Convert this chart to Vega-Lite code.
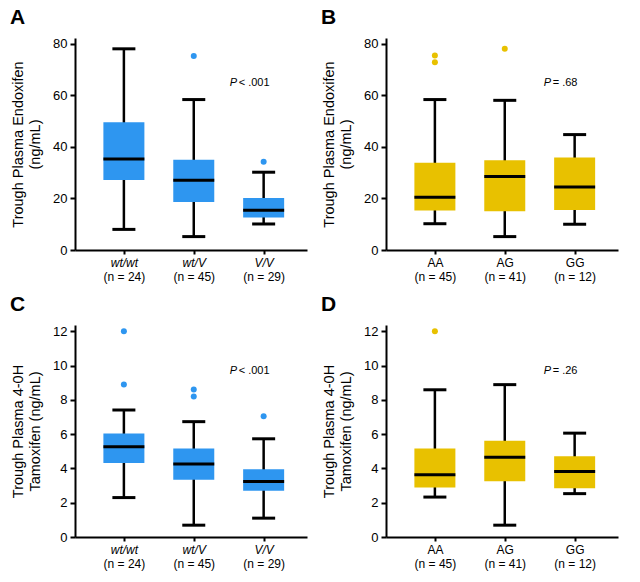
{
  "$schema": "https://vega.github.io/schema/vega-lite/v6.json",
  "background": "white",
  "padding": {"left": 10, "top": 6, "right": 5, "bottom": 5},
  "spacing": {"row": 12, "column": 14},
  "config": {
    "font": "Liberation Sans",
    "view": {"stroke": null},
    "axis": {
      "domainColor": "black", "domainWidth": 2, "tickColor": "black", "tickWidth": 2, "tickSize": 5,
      "labelColor": "black", "labelFont": "Liberation Sans", "grid": false, "labelOverlap": false,
      "titleColor": "black", "titleFont": "Liberation Sans", "titleFontWeight": "normal"
    },
    "axisY": {"titleFontSize": 14.5, "titleLineHeight": 17.5, "titlePadding": 10, "labelFontSize": 13, "labelPadding": 3, "labelOverlap": false},
    "title": {"font": "Liberation Sans", "fontSize": 21, "fontWeight": "bold", "anchor": "start", "frame": "bounds", "offset": 10, "color": "black"}
  },
  "datasets": {
    "statsA": [
      {"g": "wt/wt", "min": 8.0, "q1": 27.2, "med": 35.3, "q3": 49.6, "max": 78.1},
      {"g": "wt/V", "min": 5.2, "q1": 18.6, "med": 27.1, "q3": 35.0, "max": 58.4},
      {"g": "V/V", "min": 10.1, "q1": 12.6, "med": 15.4, "q3": 20.2, "max": 30.2}
    ],
    "outA": [
      {"g": "wt/V", "v": 75.3},
      {"g": "V/V", "v": 34.3}
    ],
    "statsB": [
      {"g": "AA", "min": 10.2, "q1": 15.3, "med": 20.5, "q3": 33.9, "max": 58.4},
      {"g": "AG", "min": 5.2, "q1": 15.0, "med": 28.5, "q3": 34.8, "max": 58.1},
      {"g": "GG", "min": 10.0, "q1": 15.5, "med": 24.5, "q3": 35.9, "max": 44.8}
    ],
    "outB": [
      {"g": "AA", "v": 75.5},
      {"g": "AA", "v": 72.9},
      {"g": "AG", "v": 78.1}
    ],
    "statsC": [
      {"g": "wt/wt", "min": 2.30, "q1": 4.32, "med": 5.27, "q3": 6.04, "max": 7.41},
      {"g": "wt/V", "min": 0.69, "q1": 3.34, "med": 4.26, "q3": 5.17, "max": 6.73},
      {"g": "V/V", "min": 1.10, "q1": 2.70, "med": 3.24, "q3": 3.96, "max": 5.73}
    ],
    "outC": [
      {"g": "wt/wt", "v": 12.0},
      {"g": "wt/wt", "v": 8.9},
      {"g": "wt/V", "v": 8.6},
      {"g": "wt/V", "v": 8.2},
      {"g": "V/V", "v": 7.05}
    ],
    "statsD": [
      {"g": "AA", "min": 2.33, "q1": 2.89, "med": 3.63, "q3": 5.17, "max": 8.59},
      {"g": "AG", "min": 0.69, "q1": 3.26, "med": 4.65, "q3": 5.61, "max": 8.89},
      {"g": "GG", "min": 2.53, "q1": 2.84, "med": 3.82, "q3": 4.71, "max": 6.06}
    ],
    "outD": [
      {"g": "AA", "v": 12.0}
    ],
    "pA": [{"p": "P", "rest": "< .001"}],
    "pB": [{"p": "P", "rest": "= .68"}],
    "pC": [{"p": "P", "rest": "< .001"}],
    "pD": [{"p": "P", "rest": "= .26"}]
  },
  "columns": 2,
  "concat": [
    {
      "title": {"text": "A"},
      "width": 232, "height": 212,
      "resolve": {"scale": {"x": "independent"}, "axis": {"x": "independent"}},
      "layer": [
        {
          "data": {"name": "statsA"},
          "encoding": {
            "x": {"field": "g", "type": "nominal", "sort": null,
                  "scale": {"type": "point", "domain": ["wt/wt", "wt/V", "V/V"], "padding": 0.66, "align": 0.53},
                  "axis": {"title": null, "labelAngle": 0, "labelFontSize": 12, "labelFontStyle": "italic", "labelPadding": 3, "tickSize": 4}}
          },
          "layer": [
            {"mark": {"type": "rule", "color": "black", "strokeWidth": 2.5},
             "encoding": {"y": {"field": "min", "type": "quantitative", "scale": {"domain": [0, 82.3], "nice": false}, "axis": {"title": ["Trough Plasma Endoxifen", "(ng/mL)"], "values": [0, 20, 40, 60, 80]}}, "y2": {"field": "max"}}},
            {"mark": {"type": "bar", "color": "#2E96F0", "width": 41},
             "encoding": {"y": {"field": "q1", "type": "quantitative", "axis": {"title": ["Trough Plasma Endoxifen", "(ng/mL)"], "values": [0, 20, 40, 60, 80]}}, "y2": {"field": "q3"}}},
            {"mark": {"type": "tick", "color": "black", "size": 41, "thickness": 3, "opacity": 1},
             "encoding": {"y": {"field": "med", "type": "quantitative", "axis": {"title": ["Trough Plasma Endoxifen", "(ng/mL)"], "values": [0, 20, 40, 60, 80]}}}},
            {"mark": {"type": "tick", "color": "black", "size": 23, "thickness": 3, "opacity": 1},
             "encoding": {"y": {"field": "min", "type": "quantitative", "axis": {"title": ["Trough Plasma Endoxifen", "(ng/mL)"], "values": [0, 20, 40, 60, 80]}}}},
            {"mark": {"type": "tick", "color": "black", "size": 23, "thickness": 3, "opacity": 1},
             "encoding": {"y": {"field": "max", "type": "quantitative", "axis": {"title": ["Trough Plasma Endoxifen", "(ng/mL)"], "values": [0, 20, 40, 60, 80]}}}},
            {"data": {"name": "pA"}, "mark": {"type": "text", "fontSize": 11, "fontStyle": "italic", "align": "left", "baseline": "middle", "dx": -34, "color": "black"},
             "encoding": {"x": {"datum": "V/V"}, "y": {"datum": 64.9, "type": "quantitative", "axis": {"title": ["Trough Plasma Endoxifen", "(ng/mL)"], "values": [0, 20, 40, 60, 80]}}, "text": {"field": "p"}}},
            {"data": {"name": "pA"}, "mark": {"type": "text", "fontSize": 11, "align": "left", "baseline": "middle", "dx": -25, "color": "black"},
             "encoding": {"x": {"datum": "V/V"}, "y": {"datum": 64.9, "type": "quantitative", "axis": {"title": ["Trough Plasma Endoxifen", "(ng/mL)"], "values": [0, 20, 40, 60, 80]}}, "text": {"field": "rest"}}}
          ]
        },
        {
          "data": {"name": "outA"},
          "mark": {"type": "point", "filled": true, "color": "#2E96F0", "size": 36, "opacity": 1},
          "encoding": {
            "x": {"field": "g", "type": "nominal", "sort": null,
                  "scale": {"type": "point", "domain": ["wt/wt", "wt/V", "V/V"], "padding": 0.66, "align": 0.53},
                  "axis": {"orient": "bottom", "title": null, "labelAngle": 0, "labelFontSize": 12, "ticks": false, "domain": false, "labelPadding": 21,
                           "labelExpr": "datum.value == 'wt/wt' ? '(n = 24)' : datum.value == 'wt/V' ? '(n = 45)' : '(n = 29)'"}},
            "y": {"field": "v", "type": "quantitative", "axis": {"title": ["Trough Plasma Endoxifen", "(ng/mL)"], "values": [0, 20, 40, 60, 80]}}
          }
        }
      ]
    },
    {
      "title": {"text": "B"},
      "width": 232, "height": 212,
      "resolve": {"scale": {"x": "independent"}, "axis": {"x": "independent"}},
      "layer": [
        {
          "data": {"name": "statsB"},
          "encoding": {
            "x": {"field": "g", "type": "nominal", "sort": null,
                  "scale": {"type": "point", "domain": ["AA", "AG", "GG"], "padding": 0.66, "align": 0.53},
                  "axis": {"title": null, "labelAngle": 0, "labelFontSize": 12, "labelPadding": 3, "tickSize": 4}}
          },
          "layer": [
            {"mark": {"type": "rule", "color": "black", "strokeWidth": 2.5},
             "encoding": {"y": {"field": "min", "type": "quantitative", "scale": {"domain": [0, 82.3], "nice": false}, "axis": {"title": ["Trough Plasma Endoxifen", "(ng/mL)"], "values": [0, 20, 40, 60, 80]}}, "y2": {"field": "max"}}},
            {"mark": {"type": "bar", "color": "#E8C100", "width": 41},
             "encoding": {"y": {"field": "q1", "type": "quantitative", "axis": {"title": ["Trough Plasma Endoxifen", "(ng/mL)"], "values": [0, 20, 40, 60, 80]}}, "y2": {"field": "q3"}}},
            {"mark": {"type": "tick", "color": "black", "size": 41, "thickness": 3, "opacity": 1},
             "encoding": {"y": {"field": "med", "type": "quantitative", "axis": {"title": ["Trough Plasma Endoxifen", "(ng/mL)"], "values": [0, 20, 40, 60, 80]}}}},
            {"mark": {"type": "tick", "color": "black", "size": 23, "thickness": 3, "opacity": 1},
             "encoding": {"y": {"field": "min", "type": "quantitative", "axis": {"title": ["Trough Plasma Endoxifen", "(ng/mL)"], "values": [0, 20, 40, 60, 80]}}}},
            {"mark": {"type": "tick", "color": "black", "size": 23, "thickness": 3, "opacity": 1},
             "encoding": {"y": {"field": "max", "type": "quantitative", "axis": {"title": ["Trough Plasma Endoxifen", "(ng/mL)"], "values": [0, 20, 40, 60, 80]}}}},
            {"data": {"name": "pB"}, "mark": {"type": "text", "fontSize": 11, "fontStyle": "italic", "align": "left", "baseline": "middle", "dx": -31, "color": "black"},
             "encoding": {"x": {"datum": "GG"}, "y": {"datum": 64.9, "type": "quantitative", "axis": {"title": ["Trough Plasma Endoxifen", "(ng/mL)"], "values": [0, 20, 40, 60, 80]}}, "text": {"field": "p"}}},
            {"data": {"name": "pB"}, "mark": {"type": "text", "fontSize": 11, "align": "left", "baseline": "middle", "dx": -22, "color": "black"},
             "encoding": {"x": {"datum": "GG"}, "y": {"datum": 64.9, "type": "quantitative", "axis": {"title": ["Trough Plasma Endoxifen", "(ng/mL)"], "values": [0, 20, 40, 60, 80]}}, "text": {"field": "rest"}}}
          ]
        },
        {
          "data": {"name": "outB"},
          "mark": {"type": "point", "filled": true, "color": "#E8C100", "size": 36, "opacity": 1},
          "encoding": {
            "x": {"field": "g", "type": "nominal", "sort": null,
                  "scale": {"type": "point", "domain": ["AA", "AG", "GG"], "padding": 0.66, "align": 0.53},
                  "axis": {"orient": "bottom", "title": null, "labelAngle": 0, "labelFontSize": 12, "ticks": false, "domain": false, "labelPadding": 21,
                           "labelExpr": "datum.value == 'AA' ? '(n = 45)' : datum.value == 'AG' ? '(n = 41)' : '(n = 12)'"}},
            "y": {"field": "v", "type": "quantitative", "axis": {"title": ["Trough Plasma Endoxifen", "(ng/mL)"], "values": [0, 20, 40, 60, 80]}}
          }
        }
      ]
    },
    {
      "title": {"text": "C"},
      "width": 232, "height": 212,
      "resolve": {"scale": {"x": "independent"}, "axis": {"x": "independent"}},
      "layer": [
        {
          "data": {"name": "statsC"},
          "encoding": {
            "x": {"field": "g", "type": "nominal", "sort": null,
                  "scale": {"type": "point", "domain": ["wt/wt", "wt/V", "V/V"], "padding": 0.66, "align": 0.53},
                  "axis": {"title": null, "labelAngle": 0, "labelFontSize": 12, "labelFontStyle": "italic", "labelPadding": 3, "tickSize": 4}}
          },
          "layer": [
            {"mark": {"type": "rule", "color": "black", "strokeWidth": 2.5},
             "encoding": {"y": {"field": "min", "type": "quantitative", "scale": {"domain": [0, 12.37], "nice": false}, "axis": {"title": ["Trough Plasma 4-0H", "Tamoxifen (ng/mL)"], "values": [0, 2, 4, 6, 8, 10, 12]}}, "y2": {"field": "max"}}},
            {"mark": {"type": "bar", "color": "#2E96F0", "width": 41},
             "encoding": {"y": {"field": "q1", "type": "quantitative", "axis": {"title": ["Trough Plasma 4-0H", "Tamoxifen (ng/mL)"], "values": [0, 2, 4, 6, 8, 10, 12]}}, "y2": {"field": "q3"}}},
            {"mark": {"type": "tick", "color": "black", "size": 41, "thickness": 3, "opacity": 1},
             "encoding": {"y": {"field": "med", "type": "quantitative", "axis": {"title": ["Trough Plasma 4-0H", "Tamoxifen (ng/mL)"], "values": [0, 2, 4, 6, 8, 10, 12]}}}},
            {"mark": {"type": "tick", "color": "black", "size": 23, "thickness": 3, "opacity": 1},
             "encoding": {"y": {"field": "min", "type": "quantitative", "axis": {"title": ["Trough Plasma 4-0H", "Tamoxifen (ng/mL)"], "values": [0, 2, 4, 6, 8, 10, 12]}}}},
            {"mark": {"type": "tick", "color": "black", "size": 23, "thickness": 3, "opacity": 1},
             "encoding": {"y": {"field": "max", "type": "quantitative", "axis": {"title": ["Trough Plasma 4-0H", "Tamoxifen (ng/mL)"], "values": [0, 2, 4, 6, 8, 10, 12]}}}},
            {"data": {"name": "pC"}, "mark": {"type": "text", "fontSize": 11, "fontStyle": "italic", "align": "left", "baseline": "middle", "dx": -34, "color": "black"},
             "encoding": {"x": {"datum": "V/V"}, "y": {"datum": 9.66, "type": "quantitative", "axis": {"title": ["Trough Plasma 4-0H", "Tamoxifen (ng/mL)"], "values": [0, 2, 4, 6, 8, 10, 12]}}, "text": {"field": "p"}}},
            {"data": {"name": "pC"}, "mark": {"type": "text", "fontSize": 11, "align": "left", "baseline": "middle", "dx": -25, "color": "black"},
             "encoding": {"x": {"datum": "V/V"}, "y": {"datum": 9.66, "type": "quantitative", "axis": {"title": ["Trough Plasma 4-0H", "Tamoxifen (ng/mL)"], "values": [0, 2, 4, 6, 8, 10, 12]}}, "text": {"field": "rest"}}}
          ]
        },
        {
          "data": {"name": "outC"},
          "mark": {"type": "point", "filled": true, "color": "#2E96F0", "size": 36, "opacity": 1},
          "encoding": {
            "x": {"field": "g", "type": "nominal", "sort": null,
                  "scale": {"type": "point", "domain": ["wt/wt", "wt/V", "V/V"], "padding": 0.66, "align": 0.53},
                  "axis": {"orient": "bottom", "title": null, "labelAngle": 0, "labelFontSize": 12, "ticks": false, "domain": false, "labelPadding": 21,
                           "labelExpr": "datum.value == 'wt/wt' ? '(n = 24)' : datum.value == 'wt/V' ? '(n = 45)' : '(n = 29)'"}},
            "y": {"field": "v", "type": "quantitative", "axis": {"title": ["Trough Plasma 4-0H", "Tamoxifen (ng/mL)"], "values": [0, 2, 4, 6, 8, 10, 12]}}
          }
        }
      ]
    },
    {
      "title": {"text": "D"},
      "width": 232, "height": 212,
      "resolve": {"scale": {"x": "independent"}, "axis": {"x": "independent"}},
      "layer": [
        {
          "data": {"name": "statsD"},
          "encoding": {
            "x": {"field": "g", "type": "nominal", "sort": null,
                  "scale": {"type": "point", "domain": ["AA", "AG", "GG"], "padding": 0.66, "align": 0.53},
                  "axis": {"title": null, "labelAngle": 0, "labelFontSize": 12, "labelPadding": 3, "tickSize": 4}}
          },
          "layer": [
            {"mark": {"type": "rule", "color": "black", "strokeWidth": 2.5},
             "encoding": {"y": {"field": "min", "type": "quantitative", "scale": {"domain": [0, 12.37], "nice": false}, "axis": {"title": ["Trough Plasma 4-0H", "Tamoxifen (ng/mL)"], "values": [0, 2, 4, 6, 8, 10, 12]}}, "y2": {"field": "max"}}},
            {"mark": {"type": "bar", "color": "#E8C100", "width": 41},
             "encoding": {"y": {"field": "q1", "type": "quantitative", "axis": {"title": ["Trough Plasma 4-0H", "Tamoxifen (ng/mL)"], "values": [0, 2, 4, 6, 8, 10, 12]}}, "y2": {"field": "q3"}}},
            {"mark": {"type": "tick", "color": "black", "size": 41, "thickness": 3, "opacity": 1},
             "encoding": {"y": {"field": "med", "type": "quantitative", "axis": {"title": ["Trough Plasma 4-0H", "Tamoxifen (ng/mL)"], "values": [0, 2, 4, 6, 8, 10, 12]}}}},
            {"mark": {"type": "tick", "color": "black", "size": 23, "thickness": 3, "opacity": 1},
             "encoding": {"y": {"field": "min", "type": "quantitative", "axis": {"title": ["Trough Plasma 4-0H", "Tamoxifen (ng/mL)"], "values": [0, 2, 4, 6, 8, 10, 12]}}}},
            {"mark": {"type": "tick", "color": "black", "size": 23, "thickness": 3, "opacity": 1},
             "encoding": {"y": {"field": "max", "type": "quantitative", "axis": {"title": ["Trough Plasma 4-0H", "Tamoxifen (ng/mL)"], "values": [0, 2, 4, 6, 8, 10, 12]}}}},
            {"data": {"name": "pD"}, "mark": {"type": "text", "fontSize": 11, "fontStyle": "italic", "align": "left", "baseline": "middle", "dx": -31, "color": "black"},
             "encoding": {"x": {"datum": "GG"}, "y": {"datum": 9.66, "type": "quantitative", "axis": {"title": ["Trough Plasma 4-0H", "Tamoxifen (ng/mL)"], "values": [0, 2, 4, 6, 8, 10, 12]}}, "text": {"field": "p"}}},
            {"data": {"name": "pD"}, "mark": {"type": "text", "fontSize": 11, "align": "left", "baseline": "middle", "dx": -22, "color": "black"},
             "encoding": {"x": {"datum": "GG"}, "y": {"datum": 9.66, "type": "quantitative", "axis": {"title": ["Trough Plasma 4-0H", "Tamoxifen (ng/mL)"], "values": [0, 2, 4, 6, 8, 10, 12]}}, "text": {"field": "rest"}}}
          ]
        },
        {
          "data": {"name": "outD"},
          "mark": {"type": "point", "filled": true, "color": "#E8C100", "size": 36, "opacity": 1},
          "encoding": {
            "x": {"field": "g", "type": "nominal", "sort": null,
                  "scale": {"type": "point", "domain": ["AA", "AG", "GG"], "padding": 0.66, "align": 0.53},
                  "axis": {"orient": "bottom", "title": null, "labelAngle": 0, "labelFontSize": 12, "ticks": false, "domain": false, "labelPadding": 21,
                           "labelExpr": "datum.value == 'AA' ? '(n = 45)' : datum.value == 'AG' ? '(n = 41)' : '(n = 12)'"}},
            "y": {"field": "v", "type": "quantitative", "axis": {"title": ["Trough Plasma 4-0H", "Tamoxifen (ng/mL)"], "values": [0, 2, 4, 6, 8, 10, 12]}}
          }
        }
      ]
    }
  ]
}
